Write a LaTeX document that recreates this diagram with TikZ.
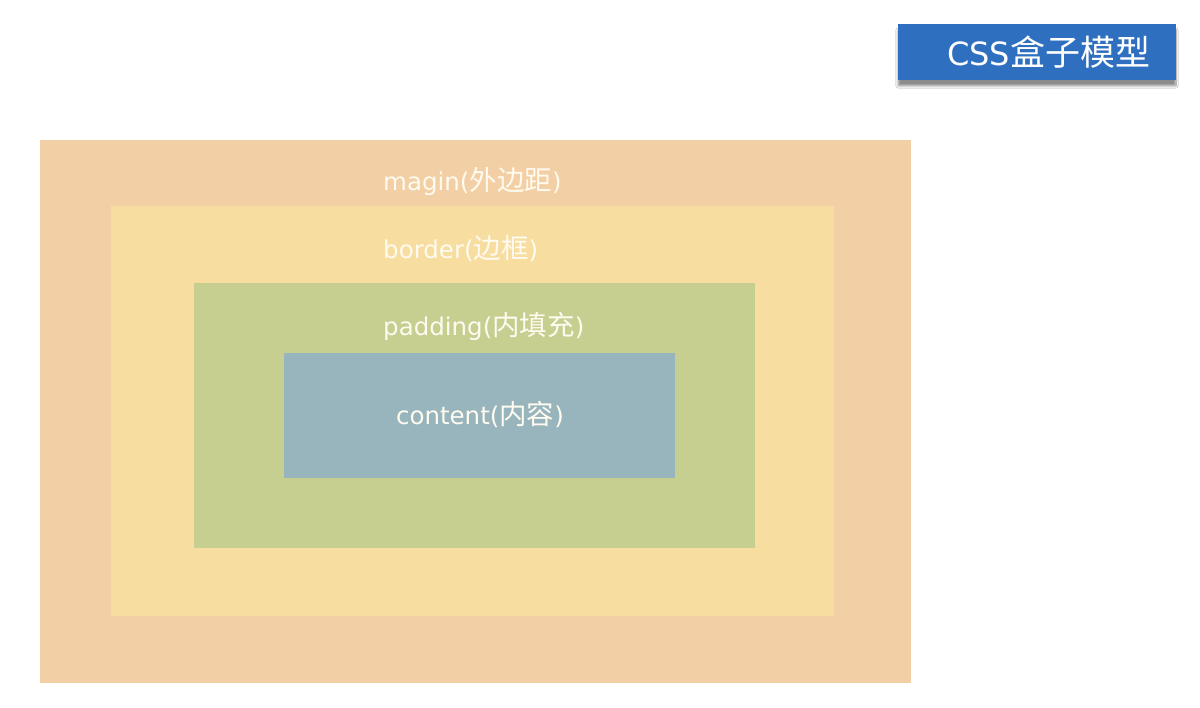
\documentclass[tikz,border=0pt]{standalone}
\usepackage{fontspec}
\setmainfont{DejaVu Sans}
\newfontfamily\cjk{Noto Sans CJK SC}
\usetikzlibrary{shadows.blur}
\definecolor{marginc}{HTML}{F2CFA4}
\definecolor{borderc}{HTML}{F7DEA0}
\definecolor{paddingc}{HTML}{C6CE90}
\definecolor{contentc}{HTML}{98B5BE}
\definecolor{titlec}{HTML}{2F6FBF}
\definecolor{labelc}{HTML}{FFFBF0}
\newcommand{\zh}[1]{{\cjk\fontsize{27.5}{30}\selectfont #1}}
\newcommand{\zht}[1]{{\cjk\fontsize{35}{37}\selectfont #1}}
\begin{document}
\begin{tikzpicture}[x=1pt,y=-1pt,
  lbl/.style={text=labelc,font=\fontsize{24.5}{28}\selectfont,inner sep=0pt,anchor=west}]
\useasboundingbox (0,0) rectangle (1200,708);
\fill[white] (0,0) rectangle (1200,708);
\fill[marginc] (40,140) rectangle (911,683);
\fill[borderc] (111,206) rectangle (834,616);
\fill[paddingc] (194,283) rectangle (755,548);
\fill[contentc] (284,353) rectangle (675,478);
\node[lbl] (m) at (383,181) {magin(\zh{外边距})};
\node[lbl] (b) at (383,249) {border(\zh{边框})};
\node[lbl] (p) at (383,326) {padding(\zh{内填充})};
\node[lbl,anchor=center] (c) at (480,414) {content(\zh{内容})};
\node[fill=titlec,minimum width=278pt,minimum height=56pt,inner sep=0pt,
  blur shadow={shadow xshift=0pt,shadow yshift=-6pt,shadow blur steps=8,shadow opacity=45},
  text=white,font=\fontsize{32}{35}\selectfont,align=right,text width=226pt] (t) at (1037,52) {CSS\zht{盒子模型}};
\end{tikzpicture}
\end{document}
